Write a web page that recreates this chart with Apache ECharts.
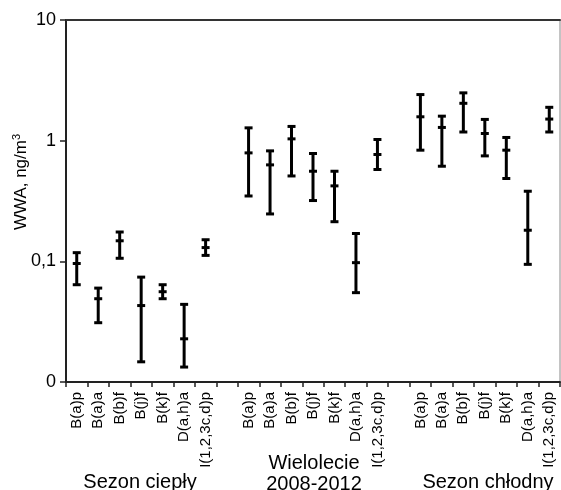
<!DOCTYPE html>
<html>
<head>
<meta charset="utf-8">
<script src="https://cdn.jsdelivr.net/npm/echarts@6/dist/echarts.min.js"></script>
<style>html,body{margin:0;padding:0;background:#fff}#c{width:561px;height:490px}</style>
</head>
<body>
<div id="c"></div>
<script>
const compounds = ['B(a)p','B(a)a','B(b)f','B(j)f','B(k)f','D(a,h)a','I(1,2,3c,d)p'];
const groupTitles = ['Sezon ciepły', 'Wielolecie\n2008-2012', 'Sezon chłodny'];
const yTickLabels = {'0.01':'0','0.1':'0,1','1':'1','10':'10'};

// Sezon ciepły
const warmLow  = [0.064, 0.031, 0.106, 0.0147, 0.049, 0.0133, 0.112];
const warmMean = [0.096, 0.049, 0.148, 0.043, 0.056, 0.0228, 0.130];
const warmHigh = [0.118, 0.060, 0.175, 0.074, 0.064, 0.044, 0.151];
// Wielolecie 2008-2012
const allLow  = [0.348, 0.247, 0.510, 0.319, 0.213, 0.055, 0.577];
const allMean = [0.792, 0.630, 1.035, 0.558, 0.422, 0.0975, 0.768];
const allHigh = [1.277, 0.823, 1.312, 0.783, 0.558, 0.170, 1.023];
// Sezon chłodny
const coldLow  = [0.834, 0.614, 1.18, 0.748, 0.486, 0.0944, 1.18];
const coldMean = [1.577, 1.287, 2.04, 1.147, 0.834, 0.181, 1.51];
const coldHigh = [2.41, 1.596, 2.49, 1.50, 1.063, 0.381, 1.89];

const groups = [
  [warmLow, warmMean, warmHigh],
  [allLow, allMean, allHigh],
  [coldLow, coldMean, coldHigh]
];

const categories = [];
const data = [];
groups.forEach((g, gi) => {
  if (gi > 0) categories.push('');
  compounds.forEach((name, i) => {
    const idx = categories.length;
    categories.push(name);
    data.push([idx, g[0][i], g[1][i], g[2][i]]);
  });
});

const FONT = 'Liberation Sans, Arial, sans-serif';
const chart = echarts.init(document.getElementById('c'), null, {renderer: 'canvas'});

function renderItem(params, api) {
  const x = api.value(0);
  const lo = api.coord([x, api.value(1)]);
  const me = api.coord([x, api.value(2)]);
  const hi = api.coord([x, api.value(3)]);
  const hw = 4;
  const st = {stroke: '#000', lineWidth: 3};
  return {
    type: 'group',
    children: [
      {type: 'line', shape: {x1: lo[0], y1: lo[1], x2: hi[0], y2: hi[1]}, style: st},
      {type: 'line', shape: {x1: lo[0]-hw, y1: lo[1], x2: lo[0]+hw, y2: lo[1]}, style: st},
      {type: 'line', shape: {x1: hi[0]-hw, y1: hi[1], x2: hi[0]+hw, y2: hi[1]}, style: st},
      {type: 'line', shape: {x1: me[0]-hw, y1: me[1], x2: me[0]+hw, y2: me[1]}, style: st}
    ]
  };
}

chart.setOption({
  animation: false,
  backgroundColor: '#fff',
  grid: {left: 66, right: 1, top: 20, bottom: 108, show: true, borderColor: '#888', borderWidth: 1},
  xAxis: [{
    type: 'category',
    data: categories,
    boundaryGap: true,
    axisLine: {lineStyle: {color: '#222', width: 2}},
    axisTick: {show: true, length: 5, interval: 0, lineStyle: {color: '#222', width: 1.5}},
    axisLabel: {interval: 0, rotate: 90, margin: 10, fontSize: 15, color: '#000', fontFamily: FONT}
  }, {
    type: 'category',
    position: 'top',
    data: categories,
    axisLine: {lineStyle: {color: '#333', width: 2}},
    axisTick: {show: false},
    axisLabel: {show: false}
  }],
  yAxis: {
    type: 'log',
    logBase: 10,
    min: 0.01,
    max: 10,
    axisLine: {show: true, lineStyle: {color: '#222', width: 2}},
    axisTick: {show: true, length: 6, lineStyle: {color: '#222', width: 1.5}},
    splitLine: {show: false},
    minorTick: {show: false},
    axisLabel: {
      margin: 10, fontSize: 18, color: '#000', fontFamily: FONT,
      formatter: v => {
        const k = String(Number(v.toPrecision(3)));
        return yTickLabels[k] !== undefined ? yTickLabels[k] : '';
      }
    }
  },
  graphic: [
    {type: 'text', rotation: Math.PI / 2, x: 21, y: 182,
     style: {text: 'WWA, ng/m{s|3}', rich: {s: {fontSize: 11, verticalAlign: 'top', padding: [0,0,8,0], fill: '#000', fontFamily: FONT}}, fontSize: 17, fill: '#000', fontFamily: FONT, align: 'center', verticalAlign: 'middle'}},
    {type: 'text', x: 140, y: 482, style: {text: groupTitles[0], fontSize: 20, fill: '#000', fontFamily: FONT, align: 'center', verticalAlign: 'middle'}},
    {type: 'text', x: 314, y: 463, style: {text: groupTitles[1].split('\n')[0], fontSize: 20, fill: '#000', fontFamily: FONT, align: 'center', verticalAlign: 'middle'}},
    {type: 'text', x: 314, y: 484, style: {text: groupTitles[1].split('\n')[1], fontSize: 20, fill: '#000', fontFamily: FONT, align: 'center', verticalAlign: 'middle'}},
    {type: 'text', x: 488, y: 482, style: {text: groupTitles[2], fontSize: 20, fill: '#000', fontFamily: FONT, align: 'center', verticalAlign: 'middle'}}
  ],
  series: [{
    type: 'custom',
    renderItem: renderItem,
    data: data,
    encode: {x: 0, y: [1, 2, 3]},
    clip: false
  }]
});
</script>
</body>
</html>
